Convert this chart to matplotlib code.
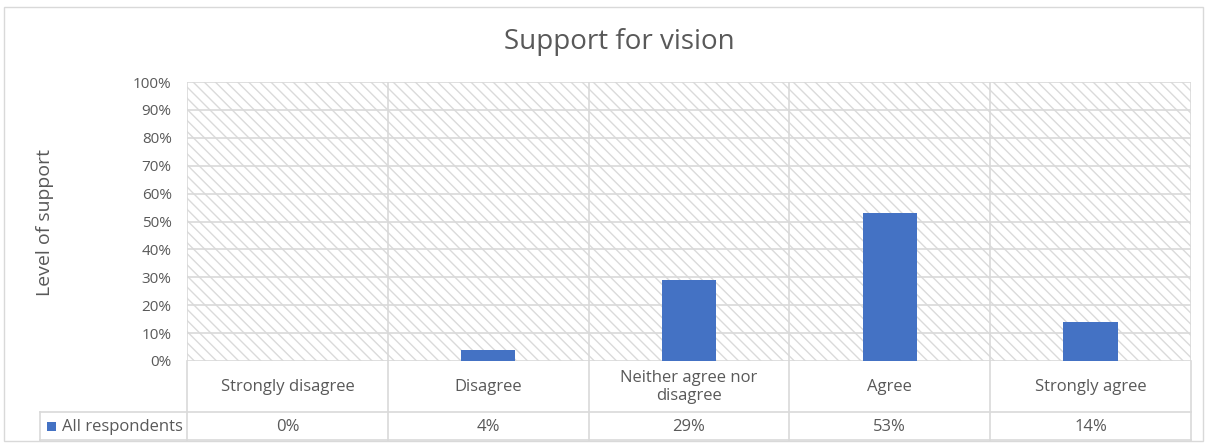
import matplotlib
matplotlib.use("Agg")
import matplotlib.pyplot as plt
from matplotlib.patches import Rectangle
from matplotlib.lines import Line2D

categories = ["Strongly disagree", "Disagree", "Neither agree nor\ndisagree", "Agree", "Strongly agree"]
values = [0, 4, 29, 53, 14]
value_labels = ["0%", "4%", "29%", "53%", "14%"]
series_name = "All respondents"
yticks = [0, 10, 20, 30, 40, 50, 60, 70, 80, 90, 100]
ytick_labels = [f"{v}%" for v in yticks]
title = "Support for vision"
ylabel = "Level of support"

W, H = 1210, 443
plt.rcParams['font.family'] = ['Open Sans', 'DejaVu Sans']
TXT = "#595959"
GRID = "#d9d9d9"
BAR = "#4472C4"
plt.rcParams['hatch.color'] = "#dadada"
plt.rcParams['hatch.linewidth'] = 1.0

fig = plt.figure(figsize=(W/100, H/100), dpi=100)

def fx(px): return px / W
def fy(py): return 1 - py / H

# outer frame
fig.add_artist(Rectangle((fx(4), fy(441)), fx(1203) - fx(4), fy(7) - fy(441),
                         transform=fig.transFigure, fill=False, edgecolor=GRID, lw=1))

L, R, T, B = 187, 1191, 82, 361
ax = fig.add_axes([fx(L), fy(B), fx(R) - fx(L), fy(T) - fy(B)])
n = len(categories)
ax.set_xlim(-0.5, n - 0.5)
ax.set_ylim(0, 100)
ax.add_patch(Rectangle((0, 0), 1, 1, transform=ax.transAxes, facecolor="white",
                       edgecolor="#dadada", hatch="\\\\\\", lw=0, zorder=0))
for v in yticks:
    ax.axhline(v, color=GRID, lw=1.2, zorder=1)
for i in range(n + 1):
    ax.axvline(i - 0.5, color=GRID, lw=1.2, zorder=1)
ax.bar(range(n), values, width=0.27, color=BAR, zorder=3)
for s in ax.spines.values():
    s.set_visible(False)
ax.set_xticks([])
ax.set_yticks(yticks)
ax.set_yticklabels(ytick_labels, color=TXT, fontsize=11)
ax.tick_params(axis='y', length=0, pad=11)

fig.text(fx(45), fy(222), ylabel, rotation=90, ha="center", va="center", fontsize=14, color=TXT)
fig.text(fx(619), fy(42), title, ha="center", va="center", fontsize=20, color=TXT)

# data table
colw = (R - L) / n
line_kw = dict(transform=fig.transFigure, color=GRID, lw=1.2)
for i in range(n + 1):
    x = L + i * colw
    fig.add_artist(Line2D([fx(x), fx(x)], [fy(B), fy(440)], **line_kw))
fig.add_artist(Line2D([fx(40), fx(40)], [fy(412), fy(440)], **line_kw))
fig.add_artist(Line2D([fx(40), fx(R)], [fy(412), fy(412)], **line_kw))
fig.add_artist(Line2D([fx(40), fx(R)], [fy(440), fy(440)], **line_kw))
for i, (c, vl) in enumerate(zip(categories, value_labels)):
    cx = L + (i + 0.5) * colw
    fig.text(fx(cx), fy(387), c, ha="center", va="center", fontsize=12, color=TXT,
             linespacing=1.25)
    fig.text(fx(cx), fy(427), vl, ha="center", va="center", fontsize=12, color=TXT)
fig.add_artist(Rectangle((fx(47), fy(431)), fx(56) - fx(47), fy(422) - fy(431),
                         transform=fig.transFigure, facecolor=BAR, edgecolor="none"))
fig.text(fx(62), fy(427), series_name, ha="left", va="center", fontsize=12, color=TXT)

fig.savefig("out.png", dpi=100)
